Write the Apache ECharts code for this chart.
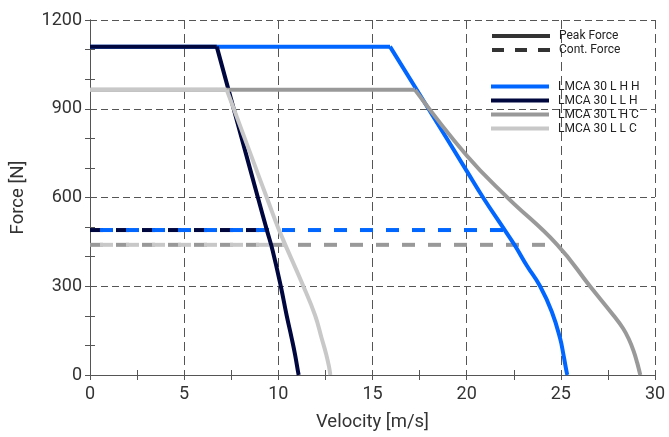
<!DOCTYPE html>
<html><head><meta charset="utf-8">
<script src="https://cdn.jsdelivr.net/npm/echarts@6/dist/echarts.min.js"></script>
<style>html,body{margin:0;padding:0;background:#fff}#c{width:669px;height:437px}</style>
</head><body><div id="c"></div>
<script>
// ---- data ----
const seriesNames = ['LMCA 30 L H H', 'LMCA 30 L L H', 'LMCA 30 L H C', 'LMCA 30 L L C'];
const seriesColors = ['#0066ff', '#00073f', '#999999', '#c8c8c8'];

// Peak force: flat part (velocity m/s, force N)
const flatHH_v = [0, 15.93];  const flatHH_f = [1110, 1110];
const flatLH_v = [0, 6.73];   const flatLH_f = [1110, 1110];
const flatHC_v = [0, 17.26];  const flatHC_f = [964, 964];
const flatLC_v = [0, 7.26];   const flatLC_f = [964, 964];
// Peak force: falling part from the knee down to zero force
const fallHH_v = [15.93, 17.97, 20.0, 20.87, 22.04, 22.57, 23.19, 23.90, 24.52, 24.96, 25.14, 25.32, 25.35];
const fallHH_f = [1110, 900, 690, 600, 488, 437, 370, 300, 214, 124, 68, 6, 0];
const fallLH_v = [6.73, 8.94, 9.40, 9.70, 10.13, 10.44, 10.71, 10.89, 11.06, 11.08];
const fallLH_f = [1110, 594, 488, 420, 300, 202, 124, 68, 6, 0];
const fallHC_v = [17.26, 20.0, 22.1, 24.8, 26.55, 27.79, 28.3, 28.62, 28.87, 29.06, 29.18, 29.22];
const fallHC_f = [964, 742, 604, 441, 300, 202, 158, 120, 80, 40, 10, 0];
const fallLC_v = [7.26, 8.70, 9.42, 10.05, 11.33, 11.95, 12.30, 12.55, 12.70, 12.76];
const fallLC_f = [964, 717, 594, 488, 300, 202, 124, 68, 25, 0];

// Continuous force lines
const contHH_v = [0, 22.02];  const contHH_f = [490, 490];
const contLH_v = [0, 9.42];   const contLH_f = [490, 490];
const contHC_v = [0, 24.85];  const contHC_f = [440, 440];
const contLC_v = [0, 10.40];  const contLC_f = [440, 440];

const legendStyleNames = ['Peak Force', 'Cont. Force'];
const xAxisName = 'Velocity [m/s]';
const yAxisName = 'Force [N]';
const xMin = 0, xMax = 30, xStep = 5;
const yMin = 0, yMax = 1200, yStep = 300;

// ---- build ----
const zip = (v, f) => v.map((x, i) => [x, f[i]]);
const flats = [[flatHH_v, flatHH_f], [flatLH_v, flatLH_f], [flatHC_v, flatHC_f], [flatLC_v, flatLC_f]];
const falls = [[fallHH_v, fallHH_f], [fallLH_v, fallLH_f], [fallHC_v, fallHC_f], [fallLC_v, fallLC_f]];
const conts = [[contHH_v, contHH_f], [contLH_v, contLH_f], [contHC_v, contHC_f], [contLC_v, contLC_f]];
const dashOffsets = [16, 0, 0, 16];

const series = [];
legendStyleNames.forEach((n, i) => {
  series.push({
    name: n, type: 'line', data: [], symbol: 'none', color: '#333333',
    lineStyle: { width: 4, color: '#333333', type: i === 0 ? 'solid' : [12, 11] }
  });
});
conts.forEach((c, i) => {
  series.push({
    name: seriesNames[i] + ' cont', type: 'line', data: zip(c[0], c[1]), symbol: 'none',
    color: seriesColors[i], z: 2 + (i === 0 ? 1 : 0) + (i === 3 ? 1 : 0),
    lineStyle: { width: 4, color: seriesColors[i], type: [13, 13], dashOffset: dashOffsets[i] },
    silent: true
  });
});
flats.forEach((p, i) => {
  series.push({
    name: seriesNames[i], type: 'line', data: zip(p[0], p[1]), symbol: 'none',
    color: seriesColors[i], z: 5 + i,
    lineStyle: { width: 4, color: seriesColors[i] }
  });
  series.push({
    name: seriesNames[i] + ' fall', type: 'line', data: zip(falls[i][0], falls[i][1]), symbol: 'none',
    color: seriesColors[i], z: 5 + i, smooth: 0.45,
    lineStyle: { width: 4, color: seriesColors[i] }
  });
});

const axisCol = '#555555';
const txtCol = '#333333';
const font = 'Roboto';

const legendCommon = {
  orient: 'vertical', padding: 0, itemWidth: 58, itemHeight: 14, itemGap: 2,
  itemStyle: { opacity: 0 }, lineStyle: { width: 4 },
  textStyle: { fontFamily: font, fontSize: 12, color: '#222', padding: [0, 0, 0, 4] }
};

const chart = echarts.init(document.getElementById('c'));
chart.setOption({
  animation: false,
  backgroundColor: '#ffffff',
  grid: { left: 90, right: 14, top: 20, bottom: 60, containLabel: false },
  legend: [
    Object.assign({ data: legendStyleNames, left: 490, top: 30 }, legendCommon),
    Object.assign({ data: seriesNames, left: 489, top: 80.5 }, legendCommon)
  ],
  xAxis: [
    {
      type: 'value', min: xMin, max: xMax, interval: xStep, position: 'bottom',
      name: xAxisName, nameLocation: 'middle', nameGap: 38,
      nameTextStyle: { fontFamily: font, fontSize: 18.5, color: txtCol },
      axisLine: { lineStyle: { color: axisCol, width: 1 } },
      axisTick: { inside: true, length: 5, lineStyle: { color: axisCol } },
      minorTick: { show: true, splitNumber: 2, length: 5, lineStyle: { color: axisCol } },
      axisLabel: { fontFamily: font, fontSize: 18, color: txtCol, margin: 10, formatter: v => String(v) },
      splitLine: { show: true, lineStyle: { color: axisCol, width: 1, type: [9, 5] } }
    },
    {
      type: 'value', min: xMin, max: xMax, interval: xStep, position: 'top',
      axisLine: { show: true, lineStyle: { color: axisCol, width: 1 } },
      axisTick: { show: true, inside: true, length: 5, lineStyle: { color: axisCol } },
      minorTick: { show: true, splitNumber: 2, length: 5, lineStyle: { color: axisCol } },
      axisLabel: { show: false }, splitLine: { show: false }
    }
  ],
  yAxis: [
    {
      type: 'value', min: yMin, max: yMax, interval: yStep, position: 'left',
      name: yAxisName, nameLocation: 'middle', nameGap: 62, nameRotate: 90,
      nameTextStyle: { fontFamily: font, fontSize: 18.5, color: txtCol },
      axisLine: { show: true, lineStyle: { color: axisCol, width: 1 } },
      axisTick: { show: true, inside: true, length: 5, lineStyle: { color: axisCol } },
      minorTick: { show: true, splitNumber: 3, length: 5, lineStyle: { color: axisCol } },
      axisLabel: { fontFamily: font, fontSize: 18, color: txtCol, margin: 8, formatter: v => String(v) },
      splitLine: { show: true, lineStyle: { color: axisCol, width: 1, type: [7, 4] } }
    },
    {
      type: 'value', min: yMin, max: yMax, interval: yStep, position: 'right',
      axisLine: { show: true, lineStyle: { color: axisCol, width: 1 } },
      axisTick: { show: true, inside: true, length: 5, lineStyle: { color: axisCol } },
      minorTick: { show: true, splitNumber: 3, length: 5, lineStyle: { color: axisCol } },
      axisLabel: { show: false }, splitLine: { show: false }
    }
  ],
  series: series
});
</script>
</body></html>
